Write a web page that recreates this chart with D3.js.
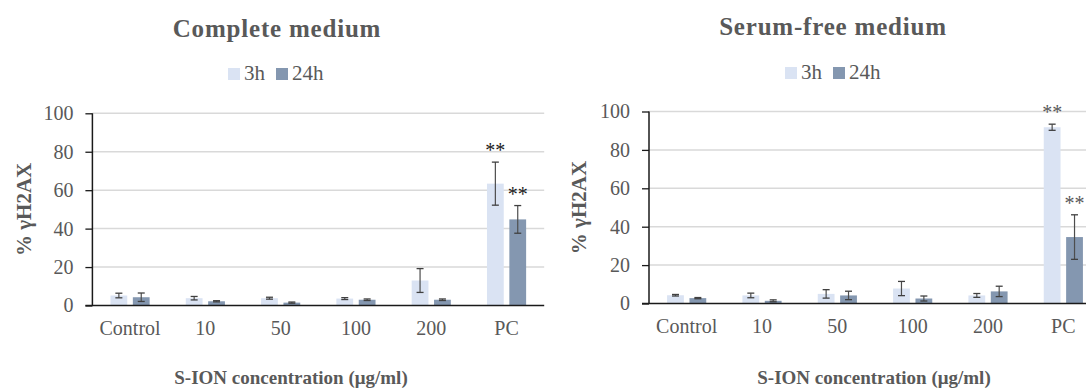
<!DOCTYPE html>
<html>
<head>
<meta charset="utf-8">
<script src="https://cdn.jsdelivr.net/npm/d3@7"></script>
<style>
  body { margin: 0; background: #fff; }
  svg text { font-family: "Liberation Serif", "Times New Roman", serif; }
</style>
</head>
<body>
<div id="chart"></div>
<script>
// data
const categories = ["Control", "10", "50", "100", "200", "PC"]
const series = ["3h", "24h"]
const yTicks = [0, 20, 40, 60, 80, 100]

const completeMean3h = [5.2, 3.8, 3.8, 3.6, 13.0, 63.4]
const completeErr3h = [1.2, 0.9, 0.5, 0.5, 6.2, 11.2]
const completeMean24h = [4.3, 2.2, 1.5, 3.0, 3.0, 44.8]
const completeErr24h = [2.2, 0.3, 0.3, 0.4, 0.4, 7.2]
const completeStars = [{ cat: "PC", s: "3h" }, { cat: "PC", s: "24h" }]

const serumMean3h = [4.3, 4.2, 5.0, 7.8, 4.2, 91.8]
const serumErr3h = [0.4, 1.2, 2.2, 3.7, 1.0, 1.6]
const serumMean24h = [2.8, 1.4, 4.2, 2.6, 6.3, 34.6]
const serumErr24h = [0.3, 0.5, 2.2, 1.3, 2.7, 11.6]
const serumStars = [{ cat: "PC", s: "3h" }, { cat: "PC", s: "24h" }]

const colors = { "3h": "#dae3f3", "24h": "#8497b0" }
const textColor = "#595959"
const serif = "'Liberation Serif', 'Times New Roman', serif"

const width = 1086
const height = 390

const svg = d3.select("#chart")
  .append("svg")
  .attr("width", width)
  .attr("height", height)
  .attr("font-family", serif)

function buildRows(m3, e3, m24, e24) {
  return categories.map((c, i) => ({
    cat: c,
    vals: [
      { s: "3h", v: m3[i], e: e3[i] },
      { s: "24h", v: m24[i], e: e24[i] }
    ]
  }))
}

const panels = [
  {
    title: "Complete medium", titleX: 277, titleY: 37,
    legendX: 228, legendY: 80,
    xRange: [92.4, 544.2], yRange: [305.5, 113.3],
    yTitleX: 31, xTitleX: 291,
    rows: buildRows(completeMean3h, completeErr3h, completeMean24h, completeErr24h),
    stars: completeStars, starColor: "#1a1a1a"
  },
  {
    title: "Serum-free medium", titleX: 833, titleY: 35,
    legendX: 785, legendY: 79,
    xRange: [649, 1101], yRange: [303.5, 111.5],
    yTitleX: 586, xTitleX: 874,
    rows: buildRows(serumMean3h, serumErr3h, serumMean24h, serumErr24h),
    stars: serumStars, starColor: "#595959"
  }
]

panels.forEach(p => {
  const g = svg.append("g")

  const x0 = d3.scaleBand()
    .domain(categories)
    .range(p.xRange)
    .paddingInner(0.48)
    .paddingOuter(0.24)

  const x1 = d3.scaleBand()
    .domain(series)
    .range([0, x0.bandwidth()])
    .paddingInner(0.25)

  const y = d3.scaleLinear()
    .domain([0, 100])
    .range(p.yRange)

  const left = p.xRange[0]
  const right = p.xRange[1]

  //gridlines
  g.append("g")
    .selectAll("line")
    .data(yTicks.filter(d => d > 0))
    .join("line")
    .attr("x1", left)
    .attr("x2", right)
    .attr("y1", d => y(d))
    .attr("y2", d => y(d))
    .attr("stroke", "#d9d9d9")
    .attr("stroke-width", 1.5)

  //bars
  const groups = g.append("g")
    .selectAll("g")
    .data(p.rows)
    .join("g")
    .attr("transform", d => `translate(${x0(d.cat)},0)`)

  groups.selectAll("rect")
    .data(d => d.vals)
    .join("rect")
    .attr("x", d => x1(d.s))
    .attr("y", d => y(d.v))
    .attr("width", x1.bandwidth())
    .attr("height", d => y(0) - y(d.v))
    .attr("fill", d => colors[d.s])

  //error bars
  const cap = 3.5
  const eb = groups.selectAll("g.err")
    .data(d => d.vals)
    .join("g")
    .attr("class", "err")
    .attr("transform", d => `translate(${x1(d.s) + x1.bandwidth() / 2},0)`)
  eb.append("line")
    .attr("y1", d => y(d.v - d.e))
    .attr("y2", d => y(d.v + d.e))
    .attr("stroke", "#4d4d4d")
    .attr("stroke-width", 1.2)
  eb.append("line")
    .attr("x1", -cap).attr("x2", cap)
    .attr("y1", d => y(d.v + d.e))
    .attr("y2", d => y(d.v + d.e))
    .attr("stroke", "#404040")
    .attr("stroke-width", 1.3)
  eb.append("line")
    .attr("x1", -cap).attr("x2", cap)
    .attr("y1", d => y(d.v - d.e))
    .attr("y2", d => y(d.v - d.e))
    .attr("stroke", "#404040")
    .attr("stroke-width", 1.3)

  //significance stars
  g.append("g")
    .selectAll("text")
    .data(p.stars)
    .join("text")
    .attr("x", d => x0(d.cat) + x1(d.s) + x1.bandwidth() / 2)
    .attr("y", d => {
      const v = p.rows.find(r => r.cat === d.cat).vals.find(o => o.s === d.s)
      return y(v.v + v.e) - 5
    })
    .attr("text-anchor", "middle")
    .style("font-size", "20px")
    .style("fill", p.starColor)
    .text("**")

  //axes
  const yAxis = g.append("g")
    .attr("transform", `translate(${left},0)`)
    .call(d3.axisLeft(y).tickValues(yTicks).tickSize(7).tickPadding(12))
    .attr("font-family", serif)
  yAxis.select(".domain").attr("stroke", "#1a1a1a").attr("stroke-width", 1.5)
    .attr("d", `M0,${y(0)}V${y(100)}`)
  yAxis.selectAll(".tick line").attr("stroke", "#1a1a1a").attr("stroke-width", 1.3)
  yAxis.selectAll(".tick text")
    .style("font-size", "20px")
    .style("fill", textColor)

  const xAxis = g.append("g")
    .attr("transform", `translate(0,${y(0)})`)
    .call(d3.axisBottom(x0).tickSize(0).tickPadding(15))
    .attr("font-family", serif)
  xAxis.select(".domain").attr("stroke", "#1a1a1a").attr("stroke-width", 1.5)
    .attr("d", `M${left - 7},0H${right}`)
  xAxis.selectAll(".tick text")
    .style("font-size", "20px")
    .style("fill", textColor)

  //title
  g.append("text")
    .attr("x", p.titleX)
    .attr("y", p.titleY)
    .attr("text-anchor", "middle")
    .style("font-size", "25px")
    .style("font-weight", "bold")
    .style("letter-spacing", "0.8px")
    .style("fill", textColor)
    .text(p.title)

  //legend
  let lx = p.legendX
  series.forEach(s => {
    g.append("rect")
      .attr("x", lx)
      .attr("y", p.legendY - 12)
      .attr("width", 12)
      .attr("height", 12)
      .attr("fill", colors[s])
    const t = g.append("text")
      .attr("x", lx + 16)
      .attr("y", p.legendY)
      .style("font-size", "21px")
      .style("fill", textColor)
      .text(s)
    lx += 16 + t.node().getComputedTextLength() + 11
  })

  //axis titles
  g.append("text")
    .attr("transform", `translate(${p.yTitleX},${(y(0) + y(100)) / 2}) rotate(-90)`)
    .attr("text-anchor", "middle")
    .style("font-size", "21px")
    .style("font-weight", "bold")
    .style("fill", textColor)
    .text("% γH2AX")

  g.append("text")
    .attr("x", p.xTitleX)
    .attr("y", 384)
    .attr("text-anchor", "middle")
    .style("font-size", "19px")
    .style("font-weight", "bold")
    .style("fill", textColor)
    .text("S-ION concentration  (μg/ml)")
})
</script>
</body>
</html>
